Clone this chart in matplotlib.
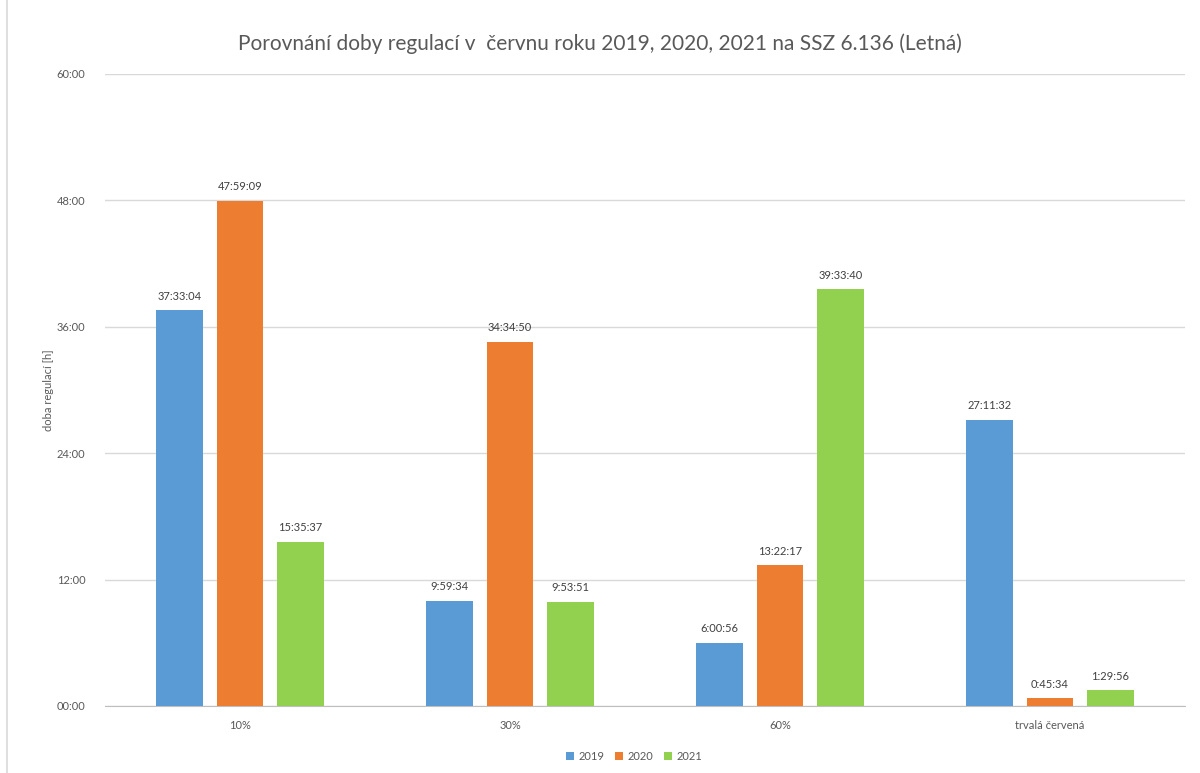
import numpy as np
import matplotlib.pyplot as plt
from matplotlib.patches import Rectangle

# hodnoty ve formatu h:mm:ss
kategorie = ["10%", "30%", "60%", "trvalá červená"]
roky = ["2019", "2020", "2021"]
doba_2019 = ["37:33:04", "9:59:34", "6:00:56", "27:11:32"]
doba_2020 = ["47:59:09", "34:34:50", "13:22:17", "0:45:34"]
doba_2021 = ["15:35:37", "9:53:51", "39:33:40", "1:29:56"]
barvy = ["#5B9BD5", "#ED7D31", "#92D050"]
yticky = [0, 12, 24, 36, 48, 60]


def na_hodiny(t):
    h, m, s = (int(x) for x in t.split(":"))
    return h + m / 60 + s / 3600


plt.rcParams['font.family'] = ['Lato', 'DejaVu Sans']
seda = "#595959"

fig = plt.figure(figsize=(12, 7.73), dpi=100)
fig.patches.append(Rectangle((0.006, -0.01), 1.2, 1.2, transform=fig.transFigure,
                             fill=False, edgecolor="#D9D9D9", lw=1.2))
ax = fig.add_axes([0.0875, 0.0867, 0.9, 0.8176])

x = np.arange(len(kategorie))
sirka = 0.174
posun = 0.224
for i, (serie, barva) in enumerate(zip([doba_2019, doba_2020, doba_2021], barvy)):
    hodnoty = [na_hodiny(t) for t in serie]
    pos = x + (i - 1) * posun
    ax.bar(pos, hodnoty, width=sirka, color=barva, label=roky[i], zorder=3)
    for px, v, t in zip(pos, hodnoty, serie):
        ax.text(px, v + 0.8, t, ha="center", va="bottom", fontsize=8, color="#404040")

ax.set_xlim(-0.5, 3.5)
ax.set_ylim(0, 60)
ax.set_yticks(yticky)
ax.set_yticklabels([f"{v:02d}:00" for v in yticky], fontsize=8, color=seda)
ax.set_xticks(x)
ax.set_xticklabels(kategorie, fontsize=8, color=seda)
ax.tick_params(length=0, pad=10)
ax.tick_params(axis="y", pad=14)
ax.grid(axis="y", color="#D9D9D9", lw=1, zorder=0)
for s in ["top", "right", "left"]:
    ax.spines[s].set_visible(False)
ax.spines["bottom"].set_color("#BFBFBF")
ax.set_ylabel("doba regulací [h]", fontsize=8, color=seda, labelpad=2)

fig.suptitle("Porovnání doby regulací v  červnu roku 2019, 2020, 2021 na SSZ 6.136 (Letná)",
             y=0.957, fontsize=15, color=seda)
ax.legend(loc="upper center", bbox_to_anchor=(0.49, -0.055), ncol=3, frameon=False,
          fontsize=8, handlelength=0.7, handleheight=0.7, columnspacing=1.0,
          handletextpad=0.4, labelcolor=seda)

fig.savefig("out.png", dpi=100)
